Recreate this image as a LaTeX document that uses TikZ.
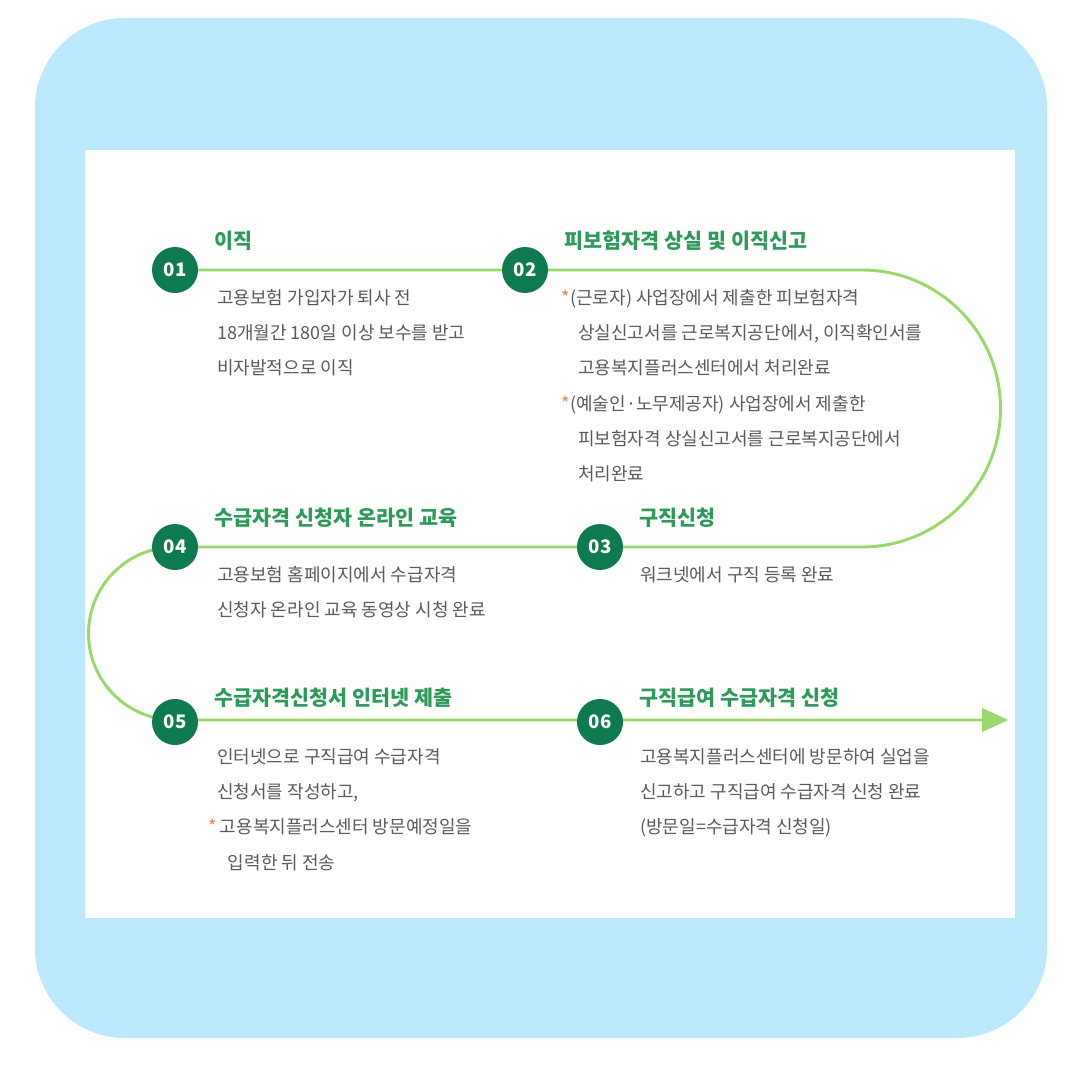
\documentclass[tikz,border=0pt]{standalone}
\usepackage{fontspec}
\newfontfamily\kr{Noto Sans CJK KR}
\begin{document}
\begin{tikzpicture}[x=0.75pt,y=-0.75pt,
  num/.style={circle,fill=dkg,minimum size=46*0.75pt,inner sep=0pt,text=white,font=\kr\bfseries\fontsize{14}{14}\selectfont},
  ttl/.style={anchor=west,text=ttlg,font=\kr\bfseries\fontsize{15.5}{16}\selectfont},
  body/.style={anchor=north west,text=txtg,align=left,font=\kr\fontsize{13.5}{26.5}\selectfont,inner sep=0pt},
  ln/.style={draw=lg,line width=2.2pt}]
\definecolor{dkg}{HTML}{0E7A4F}
\definecolor{ttlg}{HTML}{2E9A5A}
\definecolor{lg}{HTML}{9AD86A}
\definecolor{txtg}{HTML}{5A5A5A}
\definecolor{sky}{HTML}{BAE8FC}
\definecolor{org}{HTML}{F08040}
\useasboundingbox (0,0) rectangle (1080,1080);
\fill[white] (0,0) rectangle (1080,1080);
\fill[sky,rounded corners=90*0.75pt] (35,18) rectangle (1047,1038);
\fill[white] (85,150) rectangle (1015,918);
\coordinate (p1) at (175,270);
\coordinate (p2) at (862,270);
\coordinate (p4) at (175,547);
\draw[ln] (p1) -- (p2) arc[start angle=90,end angle=-90,radius=138.5*0.75pt] -- (p4) arc[start angle=90,end angle=270,radius=86.5*0.75pt] -- (985,720);
\fill[lg] (1008,720) -- (982,708) -- (982,732) -- cycle;
\node[num] (n1) at (175,270) {01};
\node[num] (n2) at (525,270) {02};
\node[num] (n3) at (600,547) {03};
\node[num] (n4) at (175,547) {04};
\node[num] (n5) at (175,722) {05};
\node[num] (n6) at (600,722) {06};
\node[ttl] (t1) at (210,241) {이직};
\node[ttl] (t2) at (560,241) {피보험자격 상실 및 이직신고};
\node[ttl] (t3) at (635,518) {구직신청};
\node[ttl] (t4) at (210,518) {수급자격 신청자 온라인 교육};
\node[ttl] (t5) at (210,698) {수급자격신청서 인터넷 제출};
\node[ttl] (t6) at (635,698) {구직급여 수급자격 신청};
\node[body] (b1) at (217,289) {고용보험 가입자가 퇴사 전\\18개월간 180일 이상 보수를 받고\\비자발적으로 이직};
\node[body] (b2) at (570,289) {\llap{\textcolor{org}{*}}(근로자) 사업장에서 제출한 피보험자격\\\hspace*{6pt}상실신고서를 근로복지공단에서, 이직확인서를\\\hspace*{6pt}고용복지플러스센터에서 처리완료\\\llap{\textcolor{org}{*}}(예술인·노무제공자) 사업장에서 제출한\\\hspace*{6pt}피보험자격 상실신고서를 근로복지공단에서\\\hspace*{6pt}처리완료};
\node[body] (b3) at (640,566) {워크넷에서 구직 등록 완료};
\node[body] (b4) at (217,566) {고용보험 홈페이지에서 수급자격\\신청자 온라인 교육 동영상 시청 완료};
\node[body] (b5) at (217,748) {인터넷으로 구직급여 수급자격\\신청서를 작성하고,\\\llap{\textcolor{org}{*}}\hspace*{2pt}고용복지플러스센터 방문예정일을\\\hspace*{8pt}입력한 뒤 전송};
\node[body] (b6) at (640,748) {고용복지플러스센터에 방문하여 실업을\\신고하고 구직급여 수급자격 신청 완료\\(방문일=수급자격 신청일)};
\end{tikzpicture}
\end{document}
